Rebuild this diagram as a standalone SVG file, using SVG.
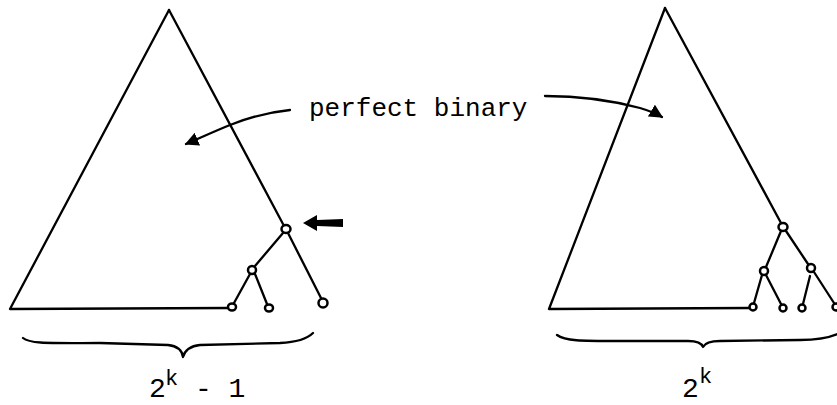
<svg xmlns="http://www.w3.org/2000/svg" width="837" height="405" viewBox="0 0 837 405">
<style>
.ln{fill:none;stroke:#000;stroke-width:2.3;stroke-linecap:round;stroke-linejoin:round}
.nd{fill:#fff;stroke:#000;stroke-width:2.5}
.tx{font-family:"Liberation Mono","Courier New",monospace;fill:#000}
</style>
<defs>
<marker id="ah" viewBox="0 0 10 10" refX="9" refY="5" markerWidth="6" markerHeight="6" orient="auto" markerUnits="strokeWidth">
<path d="M0,0 L10,5 L0,10 Z" fill="#000"/>
</marker>
</defs>
<rect width="837" height="405" fill="#fff"/>
<g id="connectors">
<path class="ln" d="M169,10 L10,309 L228,308"/>
<path class="ln" d="M169,10 L283,224"/>
<path class="ln" d="M288,233 L321,298"/>
<path class="ln" d="M283,233 L255,266"/>
<path class="ln" d="M250,274 L234,303"/>
<path class="ln" d="M255,274 L267,304"/>
<path class="ln" d="M665,8 L549,309 L749,308"/>
<path class="ln" d="M665,8 L781,223"/>
<path class="ln" d="M781,231 L766,267"/>
<path class="ln" d="M786,231 L808,264"/>
<path class="ln" d="M762,275 L754,303"/>
<path class="ln" d="M766,275 L781,304"/>
<path class="ln" d="M810,276 L803,304"/>
<path class="ln" d="M814,272 L834,303"/>
<path class="ln" d="M290,110 C270,112 250,117 230,125 C215,131 200,138 186,144" marker-end="url(#ah)"/>
<path class="ln" d="M545,96 C580,96 610,100 640,108 C650,111 657,114 662,117" marker-end="url(#ah)"/>
<path d="M343,219 L317,220 L317,215 L303,223 L317,231 L317,226 L343,227 Z" fill="#000"/>
<path class="ln" d="M23,338 C30,344 50,343 100,343 L168,345 C178,346 182,350 183,357 C185,350 190,346 200,345 L280,343 C300,342 308,338 313,333"/>
<path class="ln" d="M557,335 C565,341 580,341 620,341 L688,341 C698,341 702,344 703,347 C705,343 710,341 720,341 L800,340 C820,340 832,337 840,333"/>
</g>
<g id="left-nodes">
<ellipse id="L1" class="nd" cx="286" cy="229" rx="4.5" ry="4"/>
<ellipse id="L2" class="nd" cx="252" cy="270" rx="4" ry="4"/>
<ellipse id="L3" class="nd" cx="232" cy="307" rx="4" ry="3.5"/>
<ellipse id="L4" class="nd" cx="269" cy="308" rx="4" ry="3.5"/>
<ellipse id="L5" class="nd" cx="323" cy="303" rx="4.5" ry="4.5"/>
</g>
<g id="right-nodes">
<ellipse id="R1" class="nd" cx="783" cy="227" rx="4.5" ry="4"/>
<ellipse id="R2" class="nd" cx="764" cy="271" rx="4" ry="4"/>
<ellipse id="R3" class="nd" cx="811" cy="268" rx="4" ry="4"/>
<ellipse id="R4" class="nd" cx="753" cy="307" rx="3.5" ry="3.5"/>
<ellipse id="R5" class="nd" cx="783" cy="308" rx="3.5" ry="3.5"/>
<ellipse id="R6" class="nd" cx="802" cy="308" rx="3.5" ry="3.5"/>
<ellipse id="R7" class="nd" cx="836" cy="307" rx="3.5" ry="3.5"/>
</g>
<g id="labels">
<text class="tx" x="309" y="116" font-size="26">perfect binary</text>
<text class="tx" x="149" y="397" font-size="28">2</text>
<text class="tx" x="165" y="385" font-size="22">k</text>
<text class="tx" x="195" y="397" font-size="28">- 1</text>
<text class="tx" x="682" y="397" font-size="28">2</text>
<text class="tx" x="699" y="383" font-size="22">k</text>
</g>
</svg>
